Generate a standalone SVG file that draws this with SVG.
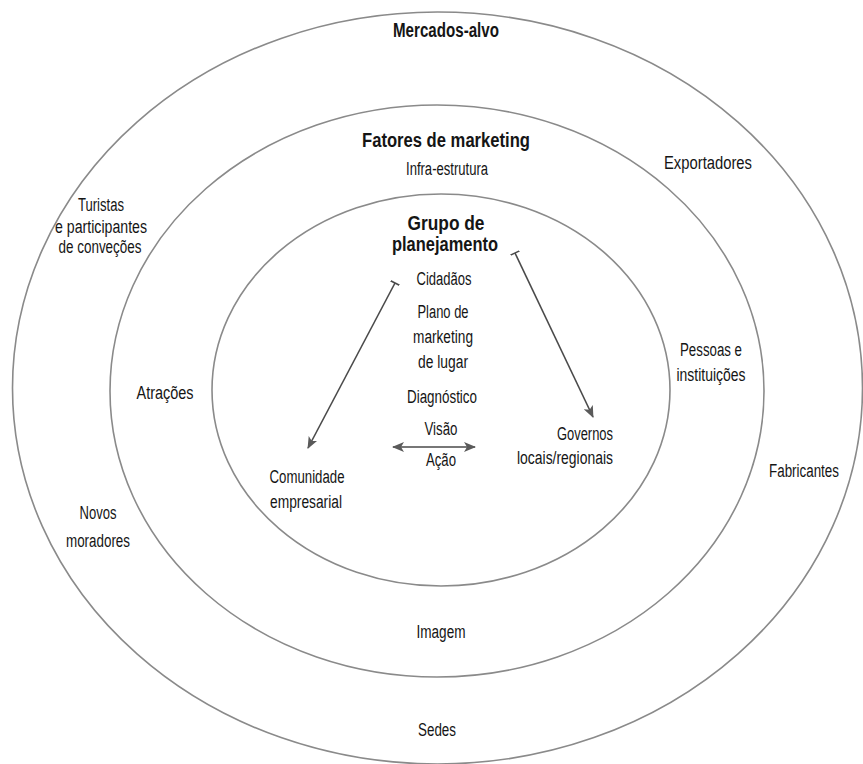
<svg xmlns="http://www.w3.org/2000/svg" width="863" height="764" viewBox="0 0 863 764">
<style>
.ring{fill:none;stroke:#8a8a8a;stroke-width:1.6}
text{font-family:"Liberation Sans",Arial,sans-serif;font-size:18px;fill:#151515;text-anchor:middle}
.b{font-weight:bold;font-size:19.5px}
.e{text-anchor:end}
.conn{stroke:#4a4a4a;stroke-width:1.6;fill:none}
</style>
<defs>
<marker id="ah" viewBox="0 0 12 10" refX="11" refY="5" markerWidth="12" markerHeight="10" markerUnits="userSpaceOnUse" orient="auto-start-reverse">
<path d="M0,0 L12,5 L0,10 L3,5 Z" fill="#5a5a5a"/>
</marker>
<marker id="tb" viewBox="0 0 4 10" refX="2" refY="5" markerWidth="4" markerHeight="10" markerUnits="userSpaceOnUse" orient="auto">
<path d="M2,0 L2,10" stroke="#4a4a4a" stroke-width="1.6"/>
</marker>
</defs>
<rect width="863" height="764" fill="#ffffff"/>
<g id="rings">
<ellipse id="outer" class="ring" cx="437.5" cy="388" rx="425" ry="376"/>
<ellipse id="middle" class="ring" cx="437" cy="391" rx="327" ry="286"/>
<ellipse id="inner" class="ring" cx="441" cy="390" rx="229" ry="196"/>
</g>
<g id="connectors">
<line class="conn" x1="395" y1="283" x2="308" y2="448" marker-start="url(#tb)" marker-end="url(#ah)"/>
<line class="conn" x1="515" y1="253" x2="593" y2="417" marker-start="url(#tb)" marker-end="url(#ah)"/>
<line class="conn" x1="393" y1="447" x2="475" y2="447" marker-start="url(#ah)" marker-end="url(#ah)"/>
</g>
<g id="mercados"><text class="b" x="446" y="37" textLength="106" lengthAdjust="spacingAndGlyphs">Mercados-alvo</text></g>
<g id="fatores"><text class="b" x="446" y="147" textLength="168" lengthAdjust="spacingAndGlyphs">Fatores de marketing</text></g>
<g id="infra"><text x="447" y="175" textLength="82" lengthAdjust="spacingAndGlyphs">Infra-estrutura</text></g>
<g id="grupo"><text class="b" x="446" y="230" textLength="77" lengthAdjust="spacingAndGlyphs">Grupo de</text><text class="b" x="445" y="251" textLength="106" lengthAdjust="spacingAndGlyphs">planejamento</text></g>
<g id="cidadaos"><text x="444" y="285" textLength="55" lengthAdjust="spacingAndGlyphs">Cidadãos</text></g>
<g id="plano"><text x="443" y="318" textLength="51" lengthAdjust="spacingAndGlyphs">Plano de</text><text x="443" y="343" textLength="60" lengthAdjust="spacingAndGlyphs">marketing</text><text x="443" y="368" textLength="50" lengthAdjust="spacingAndGlyphs">de lugar</text></g>
<g id="diagnostico"><text x="442" y="403" textLength="70" lengthAdjust="spacingAndGlyphs">Diagnóstico</text></g>
<g id="visao"><text x="441" y="435" textLength="33" lengthAdjust="spacingAndGlyphs">Visão</text></g>
<g id="acao"><text x="441" y="466" textLength="30" lengthAdjust="spacingAndGlyphs">Ação</text></g>
<g id="comunidade"><text x="307" y="483" textLength="75" lengthAdjust="spacingAndGlyphs">Comunidade</text><text x="306" y="508" textLength="72" lengthAdjust="spacingAndGlyphs">empresarial</text></g>
<g id="governos"><text class="e" x="613" y="440" textLength="56" lengthAdjust="spacingAndGlyphs">Governos</text><text class="e" x="613" y="464" textLength="96" lengthAdjust="spacingAndGlyphs">locais/regionais</text></g>
<g id="exportadores"><text x="708" y="169" textLength="88" lengthAdjust="spacingAndGlyphs">Exportadores</text></g>
<g id="turistas"><text x="101" y="211" textLength="46" lengthAdjust="spacingAndGlyphs">Turistas</text><text x="101" y="233" textLength="92" lengthAdjust="spacingAndGlyphs">e participantes</text><text x="100" y="253" textLength="83" lengthAdjust="spacingAndGlyphs">de conveções</text></g>
<g id="atracoes"><text x="165" y="399" textLength="57" lengthAdjust="spacingAndGlyphs">Atrações</text></g>
<g id="pessoas"><text x="711" y="356" textLength="62" lengthAdjust="spacingAndGlyphs">Pessoas e</text><text x="711" y="381" textLength="69" lengthAdjust="spacingAndGlyphs">instituições</text></g>
<g id="fabricantes"><text x="804" y="477" textLength="70" lengthAdjust="spacingAndGlyphs">Fabricantes</text></g>
<g id="novos"><text x="98" y="519" textLength="37" lengthAdjust="spacingAndGlyphs">Novos</text><text x="98" y="547" textLength="64" lengthAdjust="spacingAndGlyphs">moradores</text></g>
<g id="imagem"><text x="441" y="638" textLength="49" lengthAdjust="spacingAndGlyphs">Imagem</text></g>
<g id="sedes"><text x="437" y="736" textLength="38" lengthAdjust="spacingAndGlyphs">Sedes</text></g>
</svg>
